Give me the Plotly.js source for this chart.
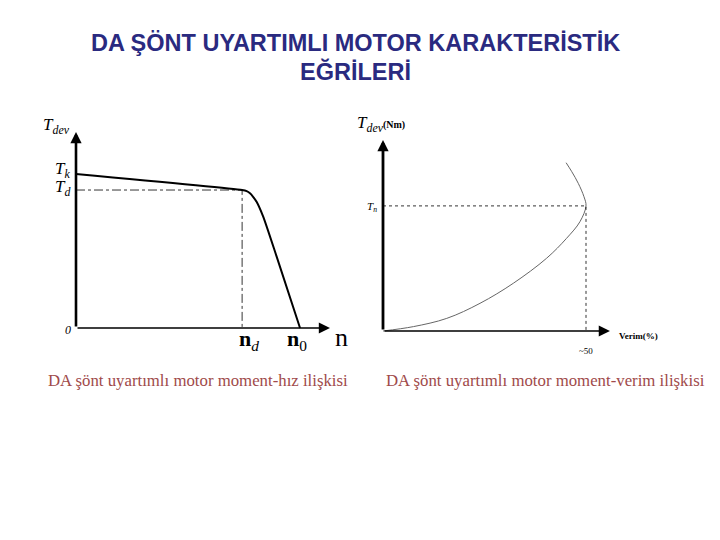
<!DOCTYPE html>
<html>
<head>
<meta charset="utf-8">
<script src="https://cdn.plot.ly/plotly-3.0.1.min.js"></script>
<style>
  html, body { margin: 0; padding: 0; background: #fff; }
  #chart { width: 720px; height: 540px; }
</style>
</head>
<body>
<div id="chart"></div>
<script>
// moment-hiz egrisi (n, T)
const speedN = [0, 65.4, 67.2, 68.5, 69.8, 71.1, 73.7, 79.0, 88.2];
const speedT = [78.6, 70.4, 69.8, 68.7, 66.8, 64.4, 56.8, 36.4, 0];
const Tk = 78.6, Td = 70.4, nd = 65.4, n0 = 88.2;

// moment-verim egrisi (verim %, T)
const effV = [0, 7.5, 15.7, 23.9, 32.1, 40.3, 45.2, 48.5, 50, 49.5, 48.1, 46.5, 45.1];
const effT = [0, 2.3, 6.6, 14.5, 25.0, 38.1, 48.5, 57.2, 65.5, 70.3, 77.3, 83.4, 88.1];
const Tn = 65.5, etaMax = 50;

const titleLines = ['DA ŞÖNT UYARTIMLI MOTOR KARAKTERİSTİK', 'EĞRİLERİ'];
const captions = ['DA şönt uyartımlı motor moment-hız ilişkisi', 'DA şönt uyartımlı motor moment-verim ilişkisi'];

const W = 720, H = 540;
const px = x => x / W;
const py = y => 1 - y / H;

// range so that value v0 lands on pixel p0 and v1 on p1, for a domain spanning d0..d1 pixels
function rangeFor(d0, d1, p0, v0, p1, v1) {
  const k = (v1 - v0) / (p1 - p0);
  return [v0 + (d0 - p0) * k, v0 + (d1 - p0) * k];
}

const hidden = { visible: false, fixedrange: true };

const traces = [
  { x: speedN, y: speedT, xaxis: 'x', yaxis: 'y', mode: 'lines',
    line: { color: '#000', width: 2, shape: 'spline', smoothing: 0.6 }, hoverinfo: 'skip' },
  { x: [0, nd, nd], y: [Td, Td, 0], xaxis: 'x', yaxis: 'y', mode: 'lines',
    line: { color: '#000', width: 0.8, dash: 'dashdot' }, hoverinfo: 'skip' },
  { x: effV, y: effT, xaxis: 'x2', yaxis: 'y2', mode: 'lines',
    line: { color: '#666', width: 1, shape: 'spline', smoothing: 1 }, hoverinfo: 'skip' },
  { x: [0, etaMax, etaMax], y: [Tn, Tn, 0], xaxis: 'x2', yaxis: 'y2', mode: 'lines',
    line: { color: '#000', width: 0.8, dash: 'dot' }, hoverinfo: 'skip' },
];

function axisArrow(xref, yref, x0, y0, x1, y1, w) {
  return { xref, yref, axref: xref, ayref: yref, x: x1, y: y1, ax: x0, ay: y0,
    text: '', showarrow: true, arrowhead: 2, arrowsize: 1.6 / w * 1.4, arrowwidth: w,
    arrowcolor: '#000', standoff: 0, startstandoff: 0 };
}

const serif = 'Liberation Serif, Times New Roman, serif';
const sans = 'Liberation Sans, Arial, sans-serif';
function label(xPix, yPix, text, size, opts) {
  return Object.assign({ xref: 'paper', yref: 'paper', x: px(xPix), y: py(yPix), text,
    showarrow: false, font: { family: serif, size, color: '#000' },
    xanchor: 'center', yanchor: 'middle' }, opts || {});
}

const annotations = [
  axisArrow('x', 'y', 0, 0, 0, 100, 2.6),
  axisArrow('x', 'y', 0, 0, 100, 0, 1.4),
  axisArrow('x2', 'y2', 0, 0, 0, 100, 2.8),
  axisArrow('x2', 'y2', 0, 0, 55.9, 0, 1.4),

  // sol grafik
  label(56, 126, '<i>T<sub>dev</sub></i>', 17),
  label(63, 170, '<i>T<sub>k</sub></i>', 17),
  label(63, 188, '<i>T<sub>d</sub></i>', 17),
  label(68, 330, '<i>0</i>', 12),
  label(249, 340, '<b>n</b><sub><i>d</i></sub>', 22),
  label(297, 340, '<b>n</b><sub>0</sub>', 22),
  label(341, 337, 'n', 26),

  // sag grafik
  label(381, 124, '<i>T<sub>dev</sub></i><span style="font-size:10px"><b>(Nm)</b></span>', 17),
  label(372, 207, '<i>T<sub>n</sub></i>', 11),
  label(638, 336, '<b>Verim(%)</b>', 9),
  label(586, 351, '~50', 9),

  // basliklar
  label(355, 43, titleLines[0], 23.5, { font: { family: sans, size: 23.5, color: '#2a2a80', weight: 'bold' } }),
  label(355, 72, titleLines[1], 23.5, { font: { family: sans, size: 23.5, color: '#2a2a80', weight: 'bold' } }),
  label(198, 380, captions[0], 16.8, { font: { family: serif, size: 16.8, color: '#a04a4a' } }),
  label(545, 380, captions[1], 16.8, { font: { family: serif, size: 16.8, color: '#a04a4a' } }),
];

const layout = {
  width: W, height: H,
  margin: { l: 0, r: 0, t: 0, b: 0 },
  paper_bgcolor: '#fff', plot_bgcolor: 'rgba(0,0,0,0)',
  showlegend: false,
  xaxis: Object.assign({ domain: [px(40), px(360)], range: rangeFor(40, 360, 76, 0, 330, 100) }, hidden),
  yaxis: Object.assign({ domain: [py(360), py(110)], range: rangeFor(360, 110, 328, 0, 132, 100) }, hidden),
  xaxis2: Object.assign({ domain: [px(360), px(700)], range: rangeFor(360, 700, 383, 0, 586, 50), anchor: 'y2' }, hidden),
  yaxis2: Object.assign({ domain: [py(360), py(110)], range: rangeFor(360, 110, 331, 0, 140, 100), anchor: 'x2' }, hidden),
  annotations,
};

Plotly.newPlot('chart', traces, layout, { displayModeBar: false, staticPlot: true });
</script>
</body>
</html>
